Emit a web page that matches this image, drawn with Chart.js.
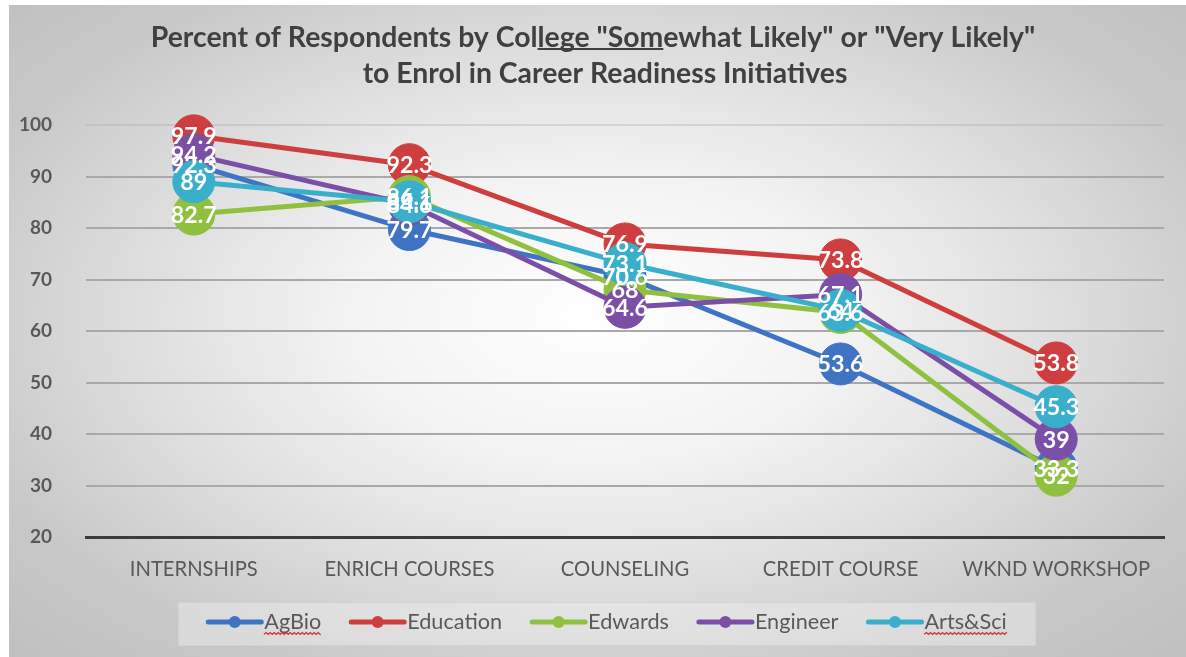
<!DOCTYPE html>
<html><head><meta charset="utf-8">
<script src="https://cdn.jsdelivr.net/npm/chart.js@4"></script>
<style>
html,body{margin:0;padding:0;width:1186px;height:657px;overflow:hidden;background:#ffffff}
#bg{position:absolute;left:9px;top:5px;width:1177px;height:652px;
 background:radial-gradient(ellipse at 50% 48%, #ffffff 0%, #f3f3f3 30%, #dcdcdc 58%, #c8c8c8 80%, #c0c0c0 100%);}
#wrap{position:absolute;left:0;top:0;width:1186px;height:657px}
</style></head>
<body><div id="bg"></div><div id="wrap"><canvas id="c" width="1186" height="657"></canvas></div>
<script>
const categories = ['INTERNSHIPS', 'ENRICH COURSES', 'COUNSELING', 'CREDIT COURSE', 'WKND WORKSHOP'];
const agBio     = [92.3, 79.7, 70.6, 53.6, 33.3];
const education = [97.9, 92.3, 76.9, 73.8, 53.8];
const edwards   = [82.7, 86.1, 68, 63.6, 32];
const engineer  = [94.2, 84.6, 64.6, 67.1, 39];
const artsSci   = [89, 85.1, 73.1, 64, 45.3];
const seriesNames = ['AgBio', 'Education', 'Edwards', 'Engineer', 'Arts&Sci'];
const seriesValues = [agBio, education, edwards, engineer, artsSci];
const seriesColors = ['#3f74c4', '#cf3e3e', '#8fc03f', '#7b4fa8', '#3aafcb'];
const yTickValues = [20, 30, 40, 50, 60, 70, 80, 90, 100];
const titleLines = ['Percent of Respondents by College "Somewhat Likely" or "Very Likely"', 'to Enrol in Career Readiness Initiatives'];

const FONT = 'Lato, "Open Sans", "DejaVu Sans", sans-serif';
const mctx = document.createElement('canvas').getContext('2d');
function fitSize(text, weight, target){ mctx.font = weight + ' 100px ' + FONT; return 100 * target / mctx.measureText(text).width; }
const titleSize = fitSize(titleLines[0], 'bold', 885);
const xTickSize = fitSize('INTERNSHIPS', 'normal', 128);
const legendSize = fitSize('Education', 'normal', 95);
const labelSize = fitSize('53.8', 'bold', 46);

const titlePlugin = {
  id: 'titleDraw',
  beforeDraw(chart){
    const ctx = chart.ctx; ctx.save();
    ctx.font = 'bold ' + titleSize + 'px ' + FONT;
    ctx.fillStyle = '#404040'; ctx.textAlign = 'center'; ctx.textBaseline = 'middle';
    ctx.fillText(titleLines[0], 593, 38);
    ctx.fillText(titleLines[1], 605, 74);
    const w = ctx.measureText(titleLines[0]).width;
    const x0 = 593 - w / 2;
    const a = x0 + ctx.measureText('Percent of Respondents by Col').width;
    const b = x0 + ctx.measureText('Percent of Respondents by College "Som').width;
    ctx.strokeStyle = '#404040'; ctx.lineWidth = 2;
    ctx.beginPath(); ctx.moveTo(a, 49); ctx.lineTo(b, 49); ctx.stroke();
    ctx.restore();
  }
};

const labelPlugin = {
  id: 'pointLabels',
  afterDatasetsDraw(chart){
    const ctx = chart.ctx; ctx.save();
    ctx.font = 'bold ' + labelSize + 'px ' + FONT;
    ctx.fillStyle = '#ffffff'; ctx.textAlign = 'center'; ctx.textBaseline = 'middle';
    chart.data.datasets.forEach((ds, i) => {
      const meta = chart.getDatasetMeta(i);
      meta.data.forEach((pt, j) => { ctx.fillText(String(ds.data[j]), pt.x, pt.y + 1); });
    });
    ctx.restore();
  }
};

function squiggle(ctx, x1, x2, y){
  ctx.save(); ctx.strokeStyle = '#e0282a'; ctx.lineWidth = 1.2; ctx.beginPath();
  let up = true; ctx.moveTo(x1, y);
  for (let x = x1 + 2; x <= x2; x += 2){ ctx.lineTo(x, up ? y - 1.5 : y + 0.5); up = !up; }
  ctx.stroke(); ctx.restore();
}

const legendPlugin = {
  id: 'customLegend',
  afterDraw(chart){
    const ctx = chart.ctx; ctx.save();
    const bx = 178, by = 602, bw = 857, bh = 43;
    ctx.fillStyle = 'rgba(240,240,240,0.45)'; ctx.fillRect(bx, by, bw, bh);
    ctx.strokeStyle = '#d2d2d2'; ctx.lineWidth = 1; ctx.strokeRect(bx + 0.5, by + 0.5, bw, bh);
    ctx.font = legendSize + 'px ' + FONT; ctx.textBaseline = 'middle'; ctx.textAlign = 'left';
    const lineLen = 57, gap = 1, spacing = 28;
    const widths = seriesNames.map(n => ctx.measureText(n).width);
    const total = widths.reduce((s, w) => s + w + lineLen + gap, 0) + spacing * (seriesNames.length - 1);
    let x = bx + bw / 2 - total / 2; const cy = 622;
    seriesNames.forEach((n, i) => {
      ctx.strokeStyle = seriesColors[i]; ctx.lineWidth = 5; ctx.lineCap = 'round';
      ctx.beginPath(); ctx.moveTo(x + 2, cy); ctx.lineTo(x + lineLen - 2, cy); ctx.stroke();
      ctx.fillStyle = seriesColors[i]; ctx.beginPath(); ctx.arc(x + lineLen / 2, cy, 6, 0, Math.PI * 2); ctx.fill();
      ctx.fillStyle = '#595959'; ctx.fillText(n, x + lineLen + gap, cy);
      if (n === 'AgBio' || n === 'Arts&Sci') squiggle(ctx, x + lineLen + gap, x + lineLen + gap + widths[i], cy + 12);
      x += lineLen + gap + widths[i] + spacing;
    });
    ctx.restore();
  }
};

new Chart(document.getElementById('c'), {
  type: 'line',
  data: {
    labels: categories,
    datasets: seriesValues.map((vals, i) => ({
      label: seriesNames[i], data: vals,
      borderColor: seriesColors[i], backgroundColor: seriesColors[i],
      pointBackgroundColor: seriesColors[i], pointBorderColor: seriesColors[i],
      borderWidth: 5, pointRadius: 21, pointHoverRadius: 21, pointBorderWidth: 1,
      tension: 0, clip: false, order: 4 - i
    }))
  },
  options: {
    responsive: false, animation: false, devicePixelRatio: 1,
    layout: { padding: { left: 0, right: 9, top: 125, bottom: 70 } },
    plugins: { legend: { display: false }, title: { display: false }, tooltip: { enabled: false } },
    events: [],
    scales: {
      x: {
        offset: true,
        grid: { display: false, drawTicks: false },
        border: { display: true, color: '#3c3c3c', width: 3 },
        ticks: { color: '#595959', font: { family: FONT, size: xTickSize }, padding: 20, maxRotation: 0, autoSkip: false },
        afterFit(s){ s.height = 50; }
      },
      y: {
        min: 20, max: 100,
        afterBuildTicks(s){ s.ticks = yTickValues.map(v => ({ value: v })); },
        grid: { drawTicks: false, lineWidth: 2,
          color: c => c.tick && c.tick.value === 100 ? 'rgba(170,170,170,0.35)' : (c.tick && c.tick.value === 20 ? 'rgba(0,0,0,0)' : '#a9a9a9') },
        border: { display: false },
        ticks: { color: '#595959', font: { family: FONT, size: 19, weight: 'bold' }, padding: 34 },
        afterFit(s){ s.width = 86; }
      }
    }
  },
  plugins: [titlePlugin, labelPlugin, legendPlugin]
});
</script>
</body></html>
